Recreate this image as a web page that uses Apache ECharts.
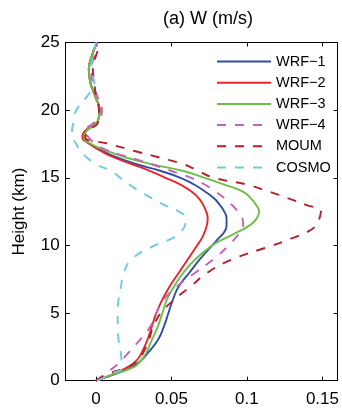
<!DOCTYPE html>
<html>
<head>
<meta charset="utf-8">
<script src="https://cdn.jsdelivr.net/npm/echarts@6/dist/echarts.min.js"></script>
<style>
html,body{margin:0;padding:0;background:#fff;}
#chart{width:342px;height:409px;}
</style>
</head>
<body>
<div id="chart"></div>
<script>
// Heights (km)
const heights = [0, 0.5, 1, 1.5, 2, 3, 4, 5, 6, 7, 8, 9, 10, 10.5, 11, 11.5, 12, 12.5, 13, 13.5, 14, 14.5, 15, 15.5, 16, 16.5, 17, 17.5, 18, 18.5, 19, 19.5, 20, 21, 22, 23, 24, 25];

// W (m/s) per model
const wrf1 = [0.000, 0.013, 0.024, 0.030, 0.034, 0.041, 0.045, 0.048, 0.051, 0.055, 0.062, 0.069, 0.077, 0.081, 0.085, 0.0865, 0.0865, 0.085, 0.082, 0.078, 0.072, 0.065, 0.056, 0.043, 0.027, 0.014, 0.004, -0.004, -0.008, -0.006, 0.000, 0.002, 0.0024, -0.0004, -0.0036, -0.0047, -0.0027, 0.0007];
const wrf2 = [0.000, 0.012, 0.021, 0.027, 0.030, 0.034, 0.037, 0.040, 0.044, 0.049, 0.055, 0.061, 0.067, 0.070, 0.072, 0.0735, 0.074, 0.073, 0.071, 0.068, 0.063, 0.056, 0.046, 0.036, 0.024, 0.012, 0.003, -0.004, -0.009, -0.007, 0.000, 0.002, 0.0024, -0.0004, -0.0036, -0.0047, -0.0027, 0.0007];
const wrf3 = [0.000, 0.012, 0.025, 0.030, 0.033, 0.037, 0.041, 0.044, 0.047, 0.052, 0.058, 0.066, 0.077, 0.085, 0.094, 0.102, 0.1065, 0.108, 0.106, 0.1025, 0.097, 0.085, 0.072, 0.058, 0.037, 0.020, 0.007, -0.003, -0.008, -0.006, 0.000, 0.002, 0.0024, -0.0004, -0.0036, -0.0047, -0.0027, 0.0007];
const wrf4 = [0.000, 0.006, 0.012, 0.017, 0.021, 0.029, 0.036, 0.040, 0.045, 0.054, 0.066, 0.078, 0.088, 0.092, 0.0955, 0.0975, 0.097, 0.094, 0.090, 0.085, 0.079, 0.072, 0.063, 0.050, 0.037, 0.023, 0.008, 0.000, -0.005, -0.007, -0.002, 0.003, 0.004, 0.001, -0.002, -0.003, -0.001, 0.001];
const moum = [0.000, 0.008, 0.021, 0.028, 0.031, 0.035, 0.038, 0.043, 0.052, 0.063, 0.074, 0.091, 0.117, 0.129, 0.140, 0.146, 0.148, 0.149, 0.139, 0.127, 0.114, 0.100, 0.078, 0.068, 0.058, 0.042, 0.025, 0.009, -0.007, -0.005, 0.001, 0.002, 0.002, 0.000, -0.001, -0.002, 0.000, 0.0035];
const cosmo = [0.001, 0.010, 0.0175, 0.017, 0.0165, 0.015, 0.0145, 0.0144, 0.015, 0.0166, 0.0185, 0.024, 0.039, 0.050, 0.056, 0.059, 0.0594, 0.055, 0.045, 0.037, 0.029, 0.022, 0.016, 0.010, 0.000, -0.006, -0.0105, -0.013, -0.0155, -0.0158, -0.015, -0.0145, -0.013, -0.006, -0.001, -0.003, -0.002, 0.000];

const seriesNames = ['WRF\u22121', 'WRF\u22122', 'WRF\u22123', 'WRF\u22124', 'MOUM', 'COSMO'];
const seriesValues = [wrf1, wrf2, wrf3, wrf4, moum, cosmo];
const xTicks = [0, 0.05, 0.1, 0.15];

const colors = ['#2f4fa6', '#e8232b', '#6cbf47', '#c462b9', '#b3202e', '#6ccbde'];
const dashed = [false, false, false, true, true, true];

const FONT = '"Liberation Sans", Arial, Helvetica, sans-serif';

const series = seriesNames.map((name, k) => ({
  name: name,
  type: 'line',
  xAxisIndex: 0,
  yAxisIndex: 0,
  data: heights.map((h, i) => [seriesValues[k][i], h]),
  symbol: 'none',
  smooth: 0.5,
  clip: true,
  lineStyle: { color: colors[k], width: 1.9, type: dashed[k] ? [9, 9] : 'solid' },
  itemStyle: { color: colors[k] },
  z: 2
}));

const chart = echarts.init(document.getElementById('chart'), null, { renderer: 'canvas' });

const axisLineStyle = { show: true, onZero: false, lineStyle: { color: '#000', width: 1 } };

chart.setOption({
  animation: false,
  backgroundColor: '#fff',
  title: {
    text: '(a) W (m/s)',
    left: 203,
    top: 5,
    textAlign: 'center',
    textStyle: { fontFamily: FONT, fontSize: 18, fontWeight: 'normal', color: '#000' }
  },
  grid: { left: 65.7, right: 2, top: 42.5, bottom: 28.3, containLabel: false },
  legend: {
    orient: 'vertical',
    left: 216,
    top: 54,
    padding: 0,
    itemWidth: 54,
    itemHeight: 12,
    itemGap: 6.2,
    itemStyle: { opacity: 0, borderWidth: 0 },
    textStyle: { fontFamily: FONT, fontSize: 14.5, color: '#000' },
    data: seriesNames
  },
  xAxis: [{
    type: 'value',
    position: 'bottom',
    min: -0.02,
    max: 0.16,
    axisLine: axisLineStyle,
    axisTick: { show: true, inside: true, length: 4, customValues: xTicks, lineStyle: { color: '#000' } },
    axisLabel: { show: true, customValues: xTicks, margin: 10, fontFamily: FONT, fontSize: 17, color: '#000', formatter: v => String(+v.toFixed(2)) },
    splitLine: { show: false }
  }, {
    type: 'value',
    position: 'top',
    min: -0.02,
    max: 0.16,
    axisLine: axisLineStyle,
    axisTick: { show: true, inside: true, length: 4, customValues: xTicks, lineStyle: { color: '#000' } },
    axisLabel: { show: false },
    splitLine: { show: false }
  }],
  yAxis: [{
    type: 'value',
    position: 'left',
    min: 0,
    max: 25,
    interval: 5,
    name: 'Height (km)',
    nameLocation: 'middle',
    nameGap: 38,
    nameTextStyle: { fontFamily: FONT, fontSize: 17, color: '#000' },
    axisLine: axisLineStyle,
    axisTick: { show: true, inside: true, length: 4, lineStyle: { color: '#000' } },
    axisLabel: { show: true, margin: 6, fontFamily: FONT, fontSize: 17, color: '#000' },
    splitLine: { show: false }
  }, {
    type: 'value',
    position: 'right',
    min: 0,
    max: 25,
    interval: 5,
    axisLine: axisLineStyle,
    axisTick: { show: true, inside: true, length: 4, lineStyle: { color: '#000' } },
    axisLabel: { show: false },
    splitLine: { show: false }
  }],
  series: series
});
</script>
</body>
</html>
